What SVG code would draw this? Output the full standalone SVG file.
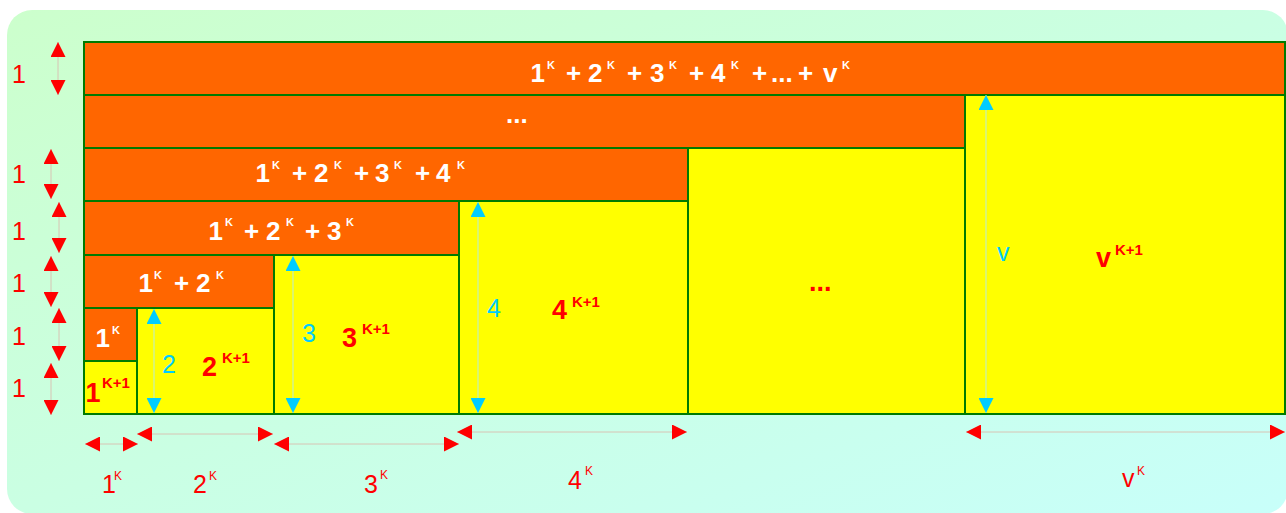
<svg xmlns="http://www.w3.org/2000/svg" width="1286" height="513" viewBox="0 0 1286 513">
<defs>
<linearGradient id="bg" x1="0" y1="0" x2="1" y2="1">
<stop offset="0" stop-color="#ccffcc"/>
<stop offset="1" stop-color="#c8fffa"/>
</linearGradient>
<marker id="ar" viewBox="0 0 15 15" refX="15" refY="7.5" markerWidth="15" markerHeight="15" markerUnits="userSpaceOnUse" orient="auto-start-reverse">
<path d="M0,0 L15,7.5 L0,15 z" fill="#ff0000"/>
</marker>
<marker id="ab" viewBox="0 0 15 15" refX="15" refY="7.5" markerWidth="15" markerHeight="15" markerUnits="userSpaceOnUse" orient="auto-start-reverse">
<path d="M0,0 L15,7.5 L0,15 z" fill="#00ccff"/>
</marker>
</defs>
<style>
.o{fill:#ff6600;stroke:#007a00;stroke-width:2}
.y{fill:#ffff00;stroke:#007a00;stroke-width:2}
.w{font-family:"Liberation Sans",Arial,sans-serif;font-weight:bold;font-size:26px;fill:#ffffff}
.ws{font-size:11px}
.rb{font-family:"Liberation Sans",Arial,sans-serif;font-weight:bold;font-size:27px;fill:#ff0000}
.rbs{font-size:15px}
.bl{font-family:"Liberation Sans",Arial,sans-serif;font-size:25px;fill:#00ccff}
.rl{font-family:"Liberation Sans",Arial,sans-serif;font-size:25px;fill:#ff0000}
.rls{font-size:12px}
.ra{stroke:#d8c4b4;stroke-width:1;fill:none;marker-start:url(#ar);marker-end:url(#ar)}
.ba{stroke:#b8ecd8;stroke-width:1;fill:none;marker-start:url(#ab);marker-end:url(#ab)}
</style>
<rect x="7" y="10" width="1281" height="504" rx="25" fill="url(#bg)"/>

<g id="row-sum-v">
<rect class="o" x="84" y="42" width="1201" height="53"/>
<text class="w"><tspan x="530.5" y="82">1</tspan><tspan class="ws" x="547" y="69">K</tspan><tspan x="566" y="82">+</tspan><tspan x="588" y="82">2</tspan><tspan class="ws" x="607" y="69">K</tspan><tspan x="627" y="82">+</tspan><tspan x="650" y="82">3</tspan><tspan class="ws" x="669" y="69">K</tspan><tspan x="689" y="82">+</tspan><tspan x="711" y="82">4</tspan><tspan class="ws" x="731" y="69">K</tspan><tspan x="752" y="82">+</tspan><tspan x="771" y="82">...</tspan><tspan x="798" y="82">+</tspan><tspan x="823" y="82">v</tspan><tspan class="ws" x="842" y="69">K</tspan></text>
</g>
<g id="row-dots">
<rect class="o" x="84" y="95" width="881" height="53"/>
<text class="w" x="506" y="123">...</text>
</g>
<g id="row-sum-4">
<rect class="o" x="84" y="148" width="604" height="53"/>
<text class="w"><tspan x="255.5" y="182">1</tspan><tspan class="ws" x="272" y="169">K</tspan><tspan x="292" y="182">+</tspan><tspan x="314" y="182">2</tspan><tspan class="ws" x="334" y="169">K</tspan><tspan x="354" y="182">+</tspan><tspan x="375" y="182">3</tspan><tspan class="ws" x="394" y="169">K</tspan><tspan x="415" y="182">+</tspan><tspan x="436" y="182">4</tspan><tspan class="ws" x="457" y="169">K</tspan></text>
</g>
<g id="row-sum-3">
<rect class="o" x="84" y="201" width="375" height="54"/>
<text class="w"><tspan x="208.5" y="240">1</tspan><tspan class="ws" x="225" y="226">K</tspan><tspan x="244" y="240">+</tspan><tspan x="266" y="240">2</tspan><tspan class="ws" x="286" y="226">K</tspan><tspan x="305" y="240">+</tspan><tspan x="327" y="240">3</tspan><tspan class="ws" x="346" y="226">K</tspan></text>
</g>
<g id="row-sum-2">
<rect class="o" x="84" y="255" width="190" height="53"/>
<text class="w"><tspan x="138.5" y="292">1</tspan><tspan class="ws" x="154" y="279">K</tspan><tspan x="174" y="292">+</tspan><tspan x="196" y="292">2</tspan><tspan class="ws" x="216" y="279">K</tspan></text>
</g>
<g id="row-sum-1">
<rect class="o" x="84" y="308" width="53" height="53"/>
<text class="w"><tspan x="95.5" y="347">1</tspan><tspan class="ws" x="112" y="334">K</tspan></text>
</g>
<g id="sq-1">
<rect class="y" x="84" y="361" width="53" height="53"/>
<text class="rb"><tspan x="85.5" y="402">1</tspan><tspan class="rbs" x="102" y="388">K+1</tspan></text>
</g>
<g id="sq-2">
<rect class="y" x="137" y="308" width="137" height="106"/>
<text class="rb"><tspan x="202" y="376">2</tspan><tspan class="rbs" x="222" y="363">K+1</tspan></text>
</g>
<g id="sq-3">
<rect class="y" x="274" y="255" width="185" height="159"/>
<text class="rb"><tspan x="342" y="347">3</tspan><tspan class="rbs" x="362" y="334">K+1</tspan></text>
</g>
<g id="sq-4">
<rect class="y" x="459" y="201" width="229" height="213"/>
<text class="rb"><tspan x="552" y="319">4</tspan><tspan class="rbs" x="572" y="307">K+1</tspan></text>
</g>
<g id="sq-dots">
<rect class="y" x="688" y="148" width="277" height="266"/>
<text class="rb" x="809" y="291">...</text>
</g>
<g id="sq-v">
<rect class="y" x="965" y="95" width="320" height="319"/>
<text class="rb"><tspan x="1096" y="267">v</tspan><tspan class="rbs" x="1115" y="255">K+1</tspan></text>
</g>

<g id="connectors">
<line class="ra" x1="58" y1="42" x2="58" y2="95"/>
<line class="ra" x1="51" y1="149" x2="51" y2="199"/>
<line class="ra" x1="59" y1="202" x2="59" y2="253"/>
<line class="ra" x1="51" y1="256" x2="51" y2="307"/>
<line class="ra" x1="59" y1="308" x2="59" y2="361"/>
<line class="ra" x1="51" y1="363" x2="51" y2="415"/>
<line class="ra" x1="85" y1="444" x2="138" y2="444"/>
<line class="ra" x1="137" y1="434" x2="273" y2="434"/>
<line class="ra" x1="274" y1="444" x2="459" y2="444"/>
<line class="ra" x1="457" y1="432" x2="687" y2="432"/>
<line class="ra" x1="966" y1="432" x2="1285" y2="432"/>
<line class="ba" x1="154" y1="309" x2="154" y2="413"/>
<line class="ba" x1="293" y1="256" x2="293" y2="413"/>
<line class="ba" x1="478" y1="202" x2="478" y2="413"/>
<line class="ba" x1="986" y1="95" x2="986" y2="413"/>
</g>

<g id="labels">
<text class="rl" x="12" y="83">1</text>
<text class="rl" x="12" y="183">1</text>
<text class="rl" x="12" y="240">1</text>
<text class="rl" x="12" y="292">1</text>
<text class="rl" x="12" y="345">1</text>
<text class="rl" x="12" y="397">1</text>
<text class="bl" x="162" y="373">2</text>
<text class="bl" x="302" y="342">3</text>
<text class="bl" x="487" y="317">4</text>
<text class="bl" x="997" y="261">v</text>
<text class="rl"><tspan x="102" y="493">1</tspan><tspan class="rls" x="114" y="480">K</tspan></text>
<text class="rl"><tspan x="193" y="493">2</tspan><tspan class="rls" x="209" y="480">K</tspan></text>
<text class="rl"><tspan x="364" y="493">3</tspan><tspan class="rls" x="380" y="479">K</tspan></text>
<text class="rl"><tspan x="568" y="489">4</tspan><tspan class="rls" x="585" y="475">K</tspan></text>
<text class="rl"><tspan x="1122" y="487">v</tspan><tspan class="rls" x="1137" y="475">K</tspan></text>
</g>
</svg>
